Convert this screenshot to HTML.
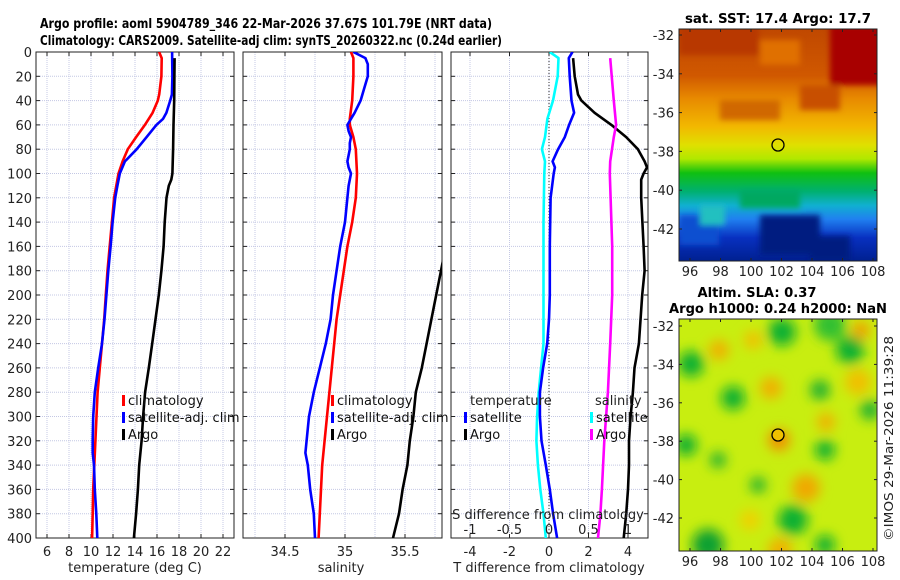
<!DOCTYPE html>
<html><head><meta charset="utf-8">
<style>
html,body{margin:0;padding:0;background:#fff;}
svg{display:block;font-family:"DejaVu Sans","Liberation Sans",sans-serif;}
</style></head>
<body>
<svg id="fig" width="900" height="580" viewBox="0 0 900 580" xmlns="http://www.w3.org/2000/svg">
<defs>
  <clipPath id="cp1"><rect x="36" y="52" width="198" height="486"/></clipPath>
  <clipPath id="cp2"><rect x="243" y="52" width="199" height="486"/></clipPath>
  <clipPath id="cp3"><rect x="451" y="52" width="197" height="486"/></clipPath>
  <clipPath id="cpm1"><rect x="679" y="29" width="198" height="232"/></clipPath>
  <clipPath id="cpm2"><rect x="679" y="319" width="198" height="232"/></clipPath>
  <filter id="blur6" x="-50%" y="-50%" width="200%" height="200%"><feGaussianBlur stdDeviation="6"/></filter>
  <filter id="blur3" x="-50%" y="-50%" width="200%" height="200%"><feGaussianBlur stdDeviation="3"/></filter>
  <linearGradient id="sstGrad" x1="0" y1="0" x2="0" y2="1">
    <stop offset="0" stop-color="#c04800"/>
    <stop offset="0.2" stop-color="#d05800"/>
    <stop offset="0.3" stop-color="#e88a00"/>
    <stop offset="0.42" stop-color="#f2b800"/>
    <stop offset="0.5" stop-color="#e0e000"/>
    <stop offset="0.56" stop-color="#b0e800"/>
    <stop offset="0.62" stop-color="#10c010"/>
    <stop offset="0.7" stop-color="#00b070"/>
    <stop offset="0.76" stop-color="#10b0d0"/>
    <stop offset="0.82" stop-color="#2080f0"/>
    <stop offset="0.9" stop-color="#0830c0"/>
    <stop offset="1" stop-color="#002090"/>
  </linearGradient>
</defs>

<text x="40" y="28" font-size="13" font-weight="bold" textLength="452" lengthAdjust="spacingAndGlyphs">Argo profile: aoml 5904789_346 22-Mar-2026 37.67S 101.79E (NRT data)</text>
<text x="40" y="45" font-size="13" font-weight="bold" textLength="462" lengthAdjust="spacingAndGlyphs">Climatology: CARS2009. Satellite-adj clim: synTS_20260322.nc (0.24d earlier)</text>

<g id="p1"></g>
<g id="p2"></g>
<g id="p3"></g>

<!-- SST map -->
<g>
  <text x="778" y="23" font-size="13" font-weight="bold" text-anchor="middle" textLength="186" lengthAdjust="spacingAndGlyphs">sat. SST: 17.4 Argo: 17.7</text>
  <g clip-path="url(#cpm1)">
    <rect x="679" y="29" width="198" height="232" fill="url(#sstGrad)"/>
    <g filter="url(#blur3)">
      <rect x="830" y="25" width="55" height="60" fill="#a80000"/>
      <rect x="679" y="25" width="80" height="30" fill="#b83800"/>
      <rect x="760" y="40" width="40" height="25" fill="#e07000"/>
      <rect x="720" y="100" width="60" height="20" fill="#d06800"/>
      <rect x="800" y="85" width="40" height="25" fill="#c85000"/>
      <rect x="740" y="190" width="60" height="18" fill="#00a860"/>
      <rect x="679" y="215" width="40" height="30" fill="#0850d0"/>
      <rect x="760" y="215" width="60" height="40" fill="#001a80"/>
      <rect x="810" y="236" width="40" height="25" fill="#001a80"/>
      <rect x="700" y="205" width="25" height="20" fill="#20c0c0"/>
    </g>
    <circle cx="778" cy="145" r="6" fill="none" stroke="#000" stroke-width="1.3"/>
  </g>
  <rect x="679" y="29" width="198" height="232" fill="none" stroke="#222" stroke-width="1"/>
  <g id="m1ticks"></g>
</g>

<!-- SLA map -->
<g>
  <text x="757" y="297" font-size="13" font-weight="bold" text-anchor="middle" textLength="119" lengthAdjust="spacingAndGlyphs">Altim. SLA: 0.37</text>
  <text x="778" y="313" font-size="13" font-weight="bold" text-anchor="middle" textLength="218" lengthAdjust="spacingAndGlyphs">Argo h1000: 0.24 h2000: NaN</text>
  <g clip-path="url(#cpm2)">
    <rect x="679" y="319" width="198" height="232" fill="#c8ee10"/>
    <g filter="url(#blur6)">
      <circle cx="782" cy="332" r="14" fill="#10b030"/>
      <circle cx="830" cy="325" r="16" fill="#30c030"/>
      <circle cx="850" cy="350" r="14" fill="#10b030"/>
      <circle cx="691" cy="364" r="13" fill="#10b030"/>
      <circle cx="733" cy="398" r="12" fill="#10b030"/>
      <circle cx="820" cy="390" r="10" fill="#20b030"/>
      <circle cx="870" cy="410" r="10" fill="#20b030"/>
      <circle cx="686" cy="445" r="11" fill="#10b030"/>
      <circle cx="825" cy="450" r="10" fill="#10b030"/>
      <circle cx="718" cy="460" r="8" fill="#20b030"/>
      <circle cx="758" cy="485" r="8" fill="#20b030"/>
      <circle cx="793" cy="520" r="15" fill="#10b030"/>
      <circle cx="708" cy="545" r="16" fill="#10a030"/>
      <circle cx="825" cy="545" r="10" fill="#10b030"/>
      <circle cx="719" cy="350" r="10" fill="#f0b000"/>
      <circle cx="753" cy="340" r="9" fill="#f0c000"/>
      <circle cx="771" cy="388" r="11" fill="#f0b000"/>
      <circle cx="858" cy="382" r="13" fill="#f0c000"/>
      <circle cx="861" cy="330" r="9" fill="#f0a000"/>
      <circle cx="826" cy="422" r="9" fill="#f0b000"/>
      <circle cx="779" cy="440" r="11" fill="#f09000"/>
      <circle cx="806" cy="488" r="14" fill="#f0a800"/>
      <circle cx="780" cy="550" r="12" fill="#f0b000"/>
      <circle cx="750" cy="520" r="10" fill="#f0d000"/>
    </g>
    <circle cx="778" cy="435" r="6" fill="#f0c000" stroke="#000" stroke-width="1.3"/>
  </g>
  <rect x="679" y="319" width="198" height="232" fill="none" stroke="#222" stroke-width="1"/>
  <g id="m2ticks"></g>
</g>
<text x="0" y="0" font-size="12" fill="#222" transform="translate(893,541) rotate(-90)" textLength="205" lengthAdjust="spacingAndGlyphs">©IMOS 29-Mar-2026 11:39:28</text>
</svg>

<script>
// ---------- DATA ----------
const depthT = [0,5,20,35,40,50,60,70,80,90,100,120,140,160,180,200,220,240,260,280,300,320,340,360,380,400];
const climT = [16.19,16.43,16.4,16.2,16.07,15.6,14.9,14.1,13.35,12.87,12.5,12.1,11.9,11.7,11.5,11.35,11.2,11.0,10.8,10.6,10.5,10.4,10.3,10.2,10.15,10.1];
const depthSatT = [0,20,35,40,50,55,60,70,80,90,100,110,120,140,160,180,200,220,240,260,280,300,320,330,340,360,380,400];
const satT = [17.37,17.4,17.35,17.2,16.85,16.55,15.95,15.05,14.15,13.08,12.62,12.4,12.2,11.96,11.78,11.57,11.4,11.23,11.0,10.65,10.35,10.2,10.15,10.15,10.27,10.35,10.48,10.57];
const depthArgo = [5,20,40,60,80,100,105,110,120,140,160,180,200,220,240,260,280,300,320,340,360,380,400];
const argoT = [17.6,17.58,17.56,17.5,17.46,17.4,17.3,17.07,16.86,16.7,16.6,16.4,16.16,15.86,15.56,15.25,14.92,14.74,14.6,14.38,14.26,14.1,13.9];

const depthS = [0,5,20,40,55,60,70,80,100,120,140,160,180,200,220,240,260,280,300,320,340,360,380,400];
const climS = [35.05,35.07,35.07,35.06,35.04,35.04,35.07,35.09,35.1,35.09,35.06,35.02,34.99,34.96,34.93,34.91,34.89,34.87,34.85,34.83,34.81,34.8,34.79,34.78];
const depthSatS = [0,5,10,20,30,40,50,55,60,65,70,75,80,90,95,100,110,120,140,160,180,200,220,240,260,280,300,320,330,340,360,380,400];
const satS = [35.07,35.17,35.19,35.19,35.16,35.13,35.08,35.05,35.02,35.03,35.05,35.04,35.04,35.02,35.03,35.05,35.03,35.02,35.0,34.96,34.93,34.9,34.88,34.84,34.79,34.74,34.7,34.68,34.67,34.69,34.71,34.74,34.75];
const depthArgoS = [100,140,160,180,200,220,240,260,280,300,320,340,360,380,400];
const argoS = [35.9,35.87,35.84,35.8,35.76,35.72,35.68,35.64,35.59,35.57,35.54,35.52,35.48,35.45,35.4];

const depthDiffSatS = [0,5,20,40,55,70,80,90,100,140,200,240,260,280,300,320,340,360,380,400];
const diffSatS = [0.01,0.12,0.11,0.05,-0.02,-0.05,-0.09,-0.05,-0.06,-0.07,-0.07,-0.07,-0.1,-0.13,-0.15,-0.16,-0.14,-0.11,-0.07,-0.04];
const depthDiffSatT = [0,5,20,40,50,60,70,80,90,95,100,120,160,200,220,240,260,280,300,320,340,360,380,400];
const diffSatT = [1.19,1.0,1.05,1.14,1.27,1.02,0.8,0.46,0.18,0.3,0.24,0.08,0.04,0.04,0.0,-0.09,-0.3,-0.46,-0.46,-0.38,-0.16,0.04,0.21,0.41];
const depthDiffArgoT = [5,20,35,40,50,60,70,80,90,95,100,105,120,160,180,200,240,260,280,300,320,340,360,380,400];
const diffArgoT = [1.22,1.3,1.47,1.64,2.31,3.16,3.91,4.5,4.84,4.96,4.79,4.67,4.67,4.79,4.84,4.72,4.55,4.33,4.25,4.13,4.05,4.05,4.0,3.91,3.78];
const depthDiffArgoS = [5,40,60,70,90,100,160,200,240,280,320,360,380,400];
const diffArgoS = [0.775,0.82,0.85,0.82,0.775,0.77,0.8,0.8,0.775,0.745,0.7,0.67,0.65,0.62];

const depthTicks = [0,20,40,60,80,100,120,140,160,180,200,220,240,260,280,300,320,340,360,380,400];
const tempTicks = [6,8,10,12,14,16,18,20,22];
const salTicks = [34.5,35,35.5];
const salMinorGrid = [34.25,34.5,34.75,35,35.25,35.5,35.75];
const tdiffTicks = [-4,-2,0,2,4];
const sdiffTicks = [-1,-0.5,0,0.5,1];
const lonTicks = [96,98,100,102,104,106,108];
const latTicks = [-32,-34,-36,-38,-40,-42];

// ---------- HELPERS ----------
const NS = "http://www.w3.org/2000/svg";
function mk(tag, attrs, parent){ const e=document.createElementNS(NS,tag); for(const k in attrs) e.setAttribute(k,attrs[k]); parent.appendChild(e); return e; }
const Y0=52, Y1=538;
const yDepth = d => Y0 + d/400*(Y1-Y0);
function linScale(d0,d1,r0,r1){ return v => r0 + (v-d0)/(d1-d0)*(r1-r0); }

function line(parent, xs, ds, xf, color, name, clip){
  const pts = xs.map((v,i)=> xf(v).toFixed(1)+","+yDepth(ds[i]).toFixed(1)).join(" ");
  const p = mk("polyline",{points:pts,fill:"none",stroke:color,"stroke-width":2.6,"stroke-linejoin":"round"},parent);
  
  
  if(clip) p.setAttribute("clip-path","url(#"+clip+")");
  return p;
}

function panelFrame(g, x0, x1, xf, vgrid, xticks, xlabelFmt, showDepthLabels){
  depthTicks.forEach(d=>{
    if(d===0||d===400) return;
    const gl = mk("line",{x1:x0,x2:x1,y1:yDepth(d),y2:yDepth(d),stroke:"#c4c8e4","stroke-width":1,"stroke-dasharray":"1,1"},g);
    
    
  });
  vgrid.forEach(v=>{
    const x=xf(v); if(x<=x0||x>=x1) return;
    const gl = mk("line",{x1:x,x2:x,y1:Y0,y2:Y1,stroke:"#c4c8e4","stroke-width":1,"stroke-dasharray":"1,1"},g);
    
    
  });
  depthTicks.forEach(d=>{
    const y=yDepth(d);
    mk("line",{x1:x0,x2:x0+4,y1:y,y2:y,stroke:"#222","stroke-width":1},g);
    mk("line",{x1:x1-4,x2:x1,y1:y,y2:y,stroke:"#222","stroke-width":1},g);
    if(showDepthLabels){
      const t = mk("text",{x:x0-4,y:y+5,"font-size":13,"text-anchor":"end",fill:"#222"},g);
      t.textContent=d;
      
      
    }
  });
  xticks.forEach(v=>{
    const x=xf(v);
    mk("line",{x1:x,x2:x,y1:Y1,y2:Y1-4,stroke:"#222","stroke-width":1},g);
    mk("line",{x1:x,x2:x,y1:Y0,y2:Y0+4,stroke:"#222","stroke-width":1},g);
    if(xlabelFmt){
      const t = mk("text",{x:x,y:556,"font-size":13,"text-anchor":"middle",fill:"#222"},g);
      t.textContent=xlabelFmt(v);
      
      
    }
  });
  const fr = mk("rect",{x:x0,y:Y0,width:x1-x0,height:Y1-Y0,fill:"none",stroke:"#222","stroke-width":1},g);
  
  
}

function legendEntry(g, x, y, color, label){
  const e = mk("g",{},g);
  
  
  mk("rect",{x:x,y:y-10,width:3,height:11,fill:color},e);
  const t = mk("text",{x:x+6,y:y,"font-size":13,fill:"#111"},e);
  t.textContent=label;
}
function txt(g,x,y,s,name,anchor,size){
  const t = mk("text",{x:x,y:y,"font-size":size||13,"text-anchor":anchor||"start",fill:"#222"},g);
  t.textContent=s;
  
  
  return t;
}

// ---------- PANEL 1: temperature ----------
const g1=document.getElementById("p1");
const xT = linScale(6,22,47,223);
panelFrame(g1,36,234,xT,tempTicks,tempTicks,v=>v,true);
line(g1,climT,depthT,xT,"#ff0000","climatology-temperature-line","cp1");
line(g1,satT,depthSatT,xT,"#0000ff","satellite-temperature-line","cp1");
line(g1,argoT,depthArgo,xT,"#000000","argo-temperature-line","cp1");
legendEntry(g1,122,405,"#ff0000","climatology");
legendEntry(g1,122,422,"#0000ff","satellite-adj. clim");
legendEntry(g1,122,439,"#000000","Argo");
txt(g1,135,572,"temperature (deg C)","temperature-axis-title","middle");

// ---------- PANEL 2: salinity ----------
const g2=document.getElementById("p2");
const xS = linScale(34.5,35.5,285,405);
panelFrame(g2,243,442,xS,salMinorGrid,salTicks,v=>v,false);
line(g2,climS,depthS,xS,"#ff0000","climatology-salinity-line","cp2");
line(g2,satS,depthSatS,xS,"#0000ff","satellite-salinity-line","cp2");
line(g2,argoS,depthArgoS,xS,"#000000","argo-salinity-line","cp2");
legendEntry(g2,331,405,"#ff0000","climatology");
legendEntry(g2,331,422,"#0000ff","satellite-adj. clim");
legendEntry(g2,331,439,"#000000","Argo");
txt(g2,341,572,"salinity","salinity-axis-title","middle");

// ---------- PANEL 3: differences ----------
const g3=document.getElementById("p3");
const xTd = linScale(-4,4,470,628);
const xSd = v => xTd(v*4);
panelFrame(g3,451,648,xTd,tdiffTicks,tdiffTicks,v=>v,false);
const zl = mk("line",{x1:xTd(0),x2:xTd(0),y1:Y0,y2:Y1,stroke:"#333","stroke-width":1,"stroke-dasharray":"1,2"},g3);


line(g3,diffSatS,depthDiffSatS,xSd,"#00ffff","satellite-salinity-diff-line","cp3");
line(g3,diffSatT,depthDiffSatT,xTd,"#0000ff","satellite-temperature-diff-line","cp3");
line(g3,diffArgoT,depthDiffArgoT,xTd,"#000000","argo-temperature-diff-line","cp3");
line(g3,diffArgoS,depthDiffArgoS,xSd,"#ff00ff","argo-salinity-diff-line","cp3");
txt(g3,470,405,"temperature","legend-temperature-header");
legendEntry(g3,464,422,"#0000ff","satellite");
legendEntry(g3,464,439,"#000000","Argo");
txt(g3,595,405,"salinity","legend-salinity-header");
legendEntry(g3,590,422,"#00ffff","satellite");
legendEntry(g3,590,439,"#ff00ff","Argo");
txt(g3,548,519,"S difference from climatology","s-diff-axis-title","middle");
sdiffTicks.forEach(v=>{ txt(g3,xSd(v),534,v,"s-diff-tick-label","middle"); });
txt(g3,549,572,"T difference from climatology","t-diff-axis-title","middle");

// ---------- map ticks ----------
function mapTicks(id, top, bottom, lat0y, lat42y){
  const g=document.getElementById(id);
  const xL = linScale(96,108,690,873);
  const yL = linScale(-32,-42,lat0y,lat42y);
  lonTicks.forEach(v=>{
    const x=xL(v);
    mk("line",{x1:x,x2:x,y1:bottom,y2:bottom-3,stroke:"#222"},g);
    mk("line",{x1:x,x2:x,y1:top,y2:top+3,stroke:"#222"},g);
    txt(g,x,bottom+15,v,"longitude-tick-label","middle");
  });
  latTicks.forEach(v=>{
    const y=yL(v);
    mk("line",{x1:679,x2:682,y1:y,y2:y,stroke:"#222"},g);
    mk("line",{x1:874,x2:877,y1:y,y2:y,stroke:"#222"},g);
    txt(g,674,y+5,v,"latitude-tick-label","end");
  });
}
mapTicks("m1ticks",29,261,35,229);
mapTicks("m2ticks",319,551,326,518);
</script>
</body></html>
